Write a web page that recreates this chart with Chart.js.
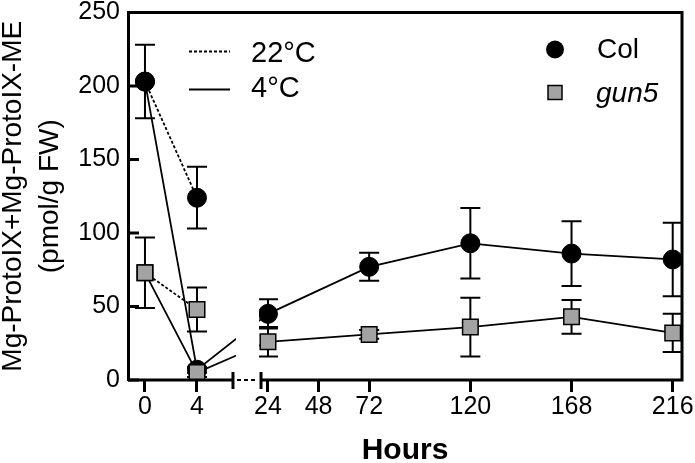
<!DOCTYPE html>
<html>
<head>
<meta charset="utf-8">
<script src="https://cdn.jsdelivr.net/npm/chart.js@4.4.0/dist/chart.umd.min.js"></script>
<style>
  html, body { margin: 0; padding: 0; background: #fff; }
  #wrap { width: 695px; height: 463px; }
</style>
</head>
<body>
<div id="wrap"><canvas id="chart" width="695" height="463"></canvas></div>
<script>
// sampling times (hours)
let hours4C = [0, 4, 24, 72, 120, 168, 216];
let hours22C = [0, 4];
let tickHours = [0, 4, 24, 48, 72, 120, 168, 216];

// Col
let col4C = [203, 7, 45, 77, 93, 86, 82];
let col4CErr = [25, 2, 10, 9.5, 24, 22, 25];
let col22C = [203, 124];
let col22CErr = [0, 21];

// gun5
let gun4C = [73, 5, 26, 31, 36, 43, 32];
let gun4CErr = [24, 3, 10, 3, 20, 11.5, 13];
let gun22C = [73, 48];
let gun22CErr = [0, 15];

// broken x axis: 0-4 h stretched on the left, 24-216 h at true scale on the right
let leftOrigin = -34.35, leftStretch = 6.17;
let breakFrom = 7.4, breakTo = 20.7;
function axisX(h) { return h < 20 ? leftOrigin + h * leftStretch : h; }

function pts(hrs, vals) {
  return hrs.map((h, i) => ({ x: axisX(h), y: vals[i] }));
}

Chart.defaults.font.family = "'Liberation Sans', Arial, sans-serif";
Chart.defaults.color = '#000';

let gray = '#a3a3a3';

let extras = {
  id: 'extras',
  beforeDatasetsDraw(chart) {
    let ctx = chart.ctx, x = chart.scales.x, y = chart.scales.y;
    ctx.save();
    ctx.strokeStyle = '#000';
    ctx.lineWidth = 2;
    chart.data.datasets.forEach(ds => {
      ds.data.forEach((p, i) => {
        let e = ds.err[i];
        if (!e) return;
        let px = x.getPixelForValue(p.x);
        let top = y.getPixelForValue(p.y + e), bot = y.getPixelForValue(p.y - e);
        ctx.beginPath();
        ctx.moveTo(px, top); ctx.lineTo(px, bot);
        ctx.moveTo(px - 10, top); ctx.lineTo(px + 10, top);
        ctx.moveTo(px - 10, bot); ctx.lineTo(px + 10, bot);
        ctx.stroke();
      });
    });
    ctx.restore();
  },
  afterDatasetsDraw(chart) {
    let ctx = chart.ctx, x = chart.scales.x, y = chart.scales.y, a = chart.chartArea;
    let x0 = x.getPixelForValue(breakFrom), x1 = x.getPixelForValue(breakTo);
    ctx.save();
    // hide the lines inside the break
    ctx.fillStyle = '#fff';
    ctx.fillRect(x0 + 3, a.top + 2, x1 - x0 - 5, a.bottom - a.top - 3);

    ctx.strokeStyle = '#000';
    ctx.lineWidth = 3;
    ctx.beginPath();
    ctx.moveTo(a.left, a.bottom); ctx.lineTo(x0, a.bottom);
    ctx.moveTo(x1, a.bottom); ctx.lineTo(a.right, a.bottom);
    ctx.moveTo(x0, a.bottom - 8); ctx.lineTo(x0, a.bottom + 9);
    ctx.moveTo(x1, a.bottom - 8); ctx.lineTo(x1, a.bottom + 9);
    // frame
    ctx.moveTo(a.left, a.top); ctx.lineTo(a.right, a.top); ctx.lineTo(a.right, a.bottom + 1.5);
    ctx.stroke();
    // inner y ticks
    y.ticks.forEach(t => {
      let py = y.getPixelForValue(t.value);
      ctx.beginPath(); ctx.moveTo(a.left, py); ctx.lineTo(a.left + 11, py); ctx.stroke();
    });
    // dotted gap
    ctx.lineWidth = 2;
    ctx.setLineDash([4, 3]);
    ctx.beginPath(); ctx.moveTo(x0 + 4, a.bottom); ctx.lineTo(x1 - 3, a.bottom); ctx.stroke();
    ctx.setLineDash([]);

    // legends
    ctx.lineWidth = 1.8;
    ctx.setLineDash([3, 2]);
    ctx.beginPath(); ctx.moveTo(a.left + 61, a.top + 39); ctx.lineTo(a.left + 102, a.top + 39); ctx.stroke();
    ctx.setLineDash([]);
    ctx.beginPath(); ctx.moveTo(a.left + 61, a.top + 77); ctx.lineTo(a.left + 102, a.top + 77); ctx.stroke();
    ctx.fillStyle = '#000';
    ctx.textBaseline = 'middle';
    ctx.font = "29px 'Liberation Sans', Arial, sans-serif";
    ctx.fillText('22\u00B0C', a.left + 123, a.top + 41);
    ctx.fillText('4\u00B0C', a.left + 123, a.top + 76);

    ctx.beginPath(); ctx.arc(555, a.top + 37, 9, 0, Math.PI * 2); ctx.fill();
    ctx.lineWidth = 1.5;
    ctx.fillStyle = gray;
    ctx.fillRect(548, a.top + 73, 14, 14);
    ctx.strokeRect(548, a.top + 73, 14, 14);
    ctx.fillStyle = '#000';
    ctx.font = "28px 'Liberation Sans', Arial, sans-serif";
    ctx.fillText('Col', 597, a.top + 38);
    ctx.font = "italic 28px 'Liberation Sans', Arial, sans-serif";
    ctx.fillText('gun5', 596, a.top + 82);
    ctx.restore();
  }
};

new Chart(document.getElementById('chart'), {
  type: 'scatter',
  data: {
    datasets: [
      { label: 'gun5 4°C', data: pts(hours4C, gun4C), err: gun4CErr, showLine: true,
        borderColor: '#000', borderWidth: 1.8, pointStyle: 'rect', pointRadius: 11,
        pointBackgroundColor: gray, pointBorderColor: '#000', pointBorderWidth: 1.5 },
      { label: 'gun5 22°C', data: pts(hours22C, gun22C), err: gun22CErr, showLine: true,
        borderColor: '#000', borderWidth: 1.8, borderDash: [3, 2], pointStyle: 'rect', pointRadius: 11,
        pointBackgroundColor: gray, pointBorderColor: '#000', pointBorderWidth: 1.5 },
      { label: 'Col 4°C', data: pts(hours4C, col4C), err: col4CErr, showLine: true,
        borderColor: '#000', borderWidth: 1.8, pointStyle: 'circle', pointRadius: 9.5,
        pointBackgroundColor: '#000', pointBorderColor: '#000', pointBorderWidth: 1 },
      { label: 'Col 22°C', data: pts(hours22C, col22C), err: col22CErr, showLine: true,
        borderColor: '#000', borderWidth: 1.8, borderDash: [3, 2], pointStyle: 'circle', pointRadius: 9.5,
        pointBackgroundColor: '#000', pointBorderColor: '#000', pointBorderWidth: 1 }
    ]
  },
  options: {
    responsive: false,
    animation: false,
    layout: { padding: { top: 11, right: 13, left: 0, bottom: 0 } },
    plugins: { legend: { display: false }, tooltip: { enabled: false } },
    scales: {
      x: {
        type: 'linear', min: -42.4, max: 220.4,
        afterBuildTicks: s => { s.ticks = tickHours.map(h => ({ value: axisX(h) })); },
        afterFit: s => { s.height = 83; s.paddingLeft = 0; s.paddingRight = 0; },
        ticks: { callback: (v, i) => tickHours[i], font: { size: 25 }, padding: 0, maxRotation: 0, autoSkip: false },
        grid: { drawOnChartArea: false, drawTicks: true, tickLength: 12, lineWidth: 3, color: '#000' },
        border: { display: false },
        title: { display: true, text: 'Hours', font: { size: 30, weight: 'bold', lineHeight: 1 }, padding: { top: 0, bottom: -3 } }
      },
      y: {
        min: 0, max: 250,
        afterFit: s => { s.width = 128; s.paddingTop = 0; s.paddingBottom = 0; },
        ticks: { stepSize: 50, font: { size: 25 }, padding: 8 },
        grid: { drawOnChartArea: false, drawTicks: false },
        border: { display: true, width: 3, color: '#000' },
        title: { display: true, text: ['Mg-ProtoIX+Mg-ProtoIX-ME', '(pmol/g FW)'],
          font: { size: 28, lineHeight: 1.32 }, padding: { top: -5, bottom: 0 } }
      }
    }
  },
  plugins: [extras]
});
</script>
</body>
</html>
